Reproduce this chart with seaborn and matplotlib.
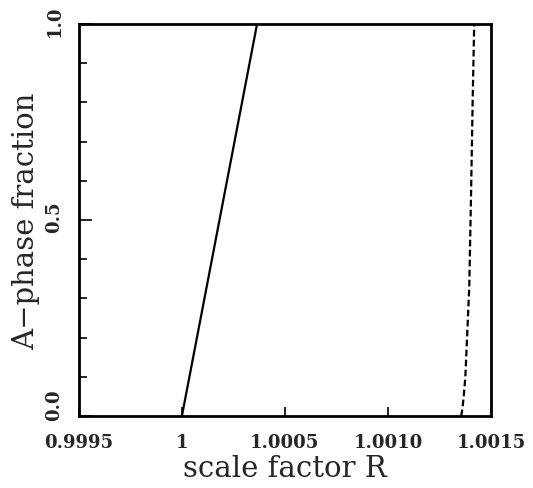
import matplotlib
matplotlib.use("Agg")
import matplotlib.pyplot as plt
import seaborn as sns
import pandas as pd
from matplotlib.ticker import MultipleLocator
from matplotlib.transforms import ScaledTranslation

sns.set_style("ticks")
plt.rcParams["font.family"] = ["DejaVu Serif"]

# Data
solid_R = [1.0, 1.000365]
solid_f = [0.0, 1.0]
dashed_R = [1.001356, 1.001362, 1.001368, 1.001376, 1.001395, 1.001404, 1.001412, 1.001419]
dashed_f = [0.0, 0.02, 0.05, 0.10, 0.33, 0.575, 0.818, 1.0]

x_ticks = [0.9995, 1.0, 1.0005, 1.0010, 1.0015]
x_tick_labels = ["0.9995", "1", "1.0005", "1.0010", "1.0015"]
y_ticks = [0.0, 0.5, 1.0]
y_tick_labels = ["0.0", "0.5", "1.0"]

df_solid = pd.DataFrame({"R": solid_R, "f": solid_f})
df_dashed = pd.DataFrame({"R": dashed_R, "f": dashed_f})

fig = plt.figure(figsize=(5.33, 4.89), dpi=100)
ax = fig.add_axes([0.148, 0.147, 0.773, 0.802])

sns.lineplot(data=df_solid, x="R", y="f", ax=ax, color="black", linewidth=1.6,
             sort=False, estimator=None)
sns.lineplot(data=df_dashed, x="R", y="f", ax=ax, color="black", linewidth=1.6,
             sort=False, estimator=None, linestyle=(0, (3, 1.5)))

ax.set_xlim(0.9995, 1.0015)
ax.set_ylim(0.0, 1.0)
ax.set_xticks(x_ticks)
ax.set_xticklabels(x_tick_labels, fontsize=13, fontweight="bold")
ax.set_yticks(y_ticks)
ax.set_yticklabels(y_tick_labels, fontsize=13, fontweight="bold", rotation=90, va="center")
ax.yaxis.set_minor_locator(MultipleLocator(0.1))

ax.tick_params(axis="both", which="both", direction="in", top=False, right=False,
               width=1.2, color="black")
ax.tick_params(axis="x", which="major", length=6.5, pad=12)
ax.tick_params(axis="y", which="major", length=9, pad=11)
ax.tick_params(axis="y", which="minor", length=6)

# shift y tick labels slightly upward as in the reference
for lab, dy in zip(ax.get_yticklabels(), [12, 4, 4]):
    lab.set_transform(lab.get_transform() + ScaledTranslation(0, dy / 100, fig.dpi_scale_trans))

for s in ax.spines.values():
    s.set_linewidth(2.0)
    s.set_color("black")
    s.set_visible(True)

ax.set_xlabel("scale factor R", fontsize=21, labelpad=2)
ax.set_ylabel("A\u2212phase fraction", fontsize=21, labelpad=4)

fig.savefig("out.png", dpi=100)
